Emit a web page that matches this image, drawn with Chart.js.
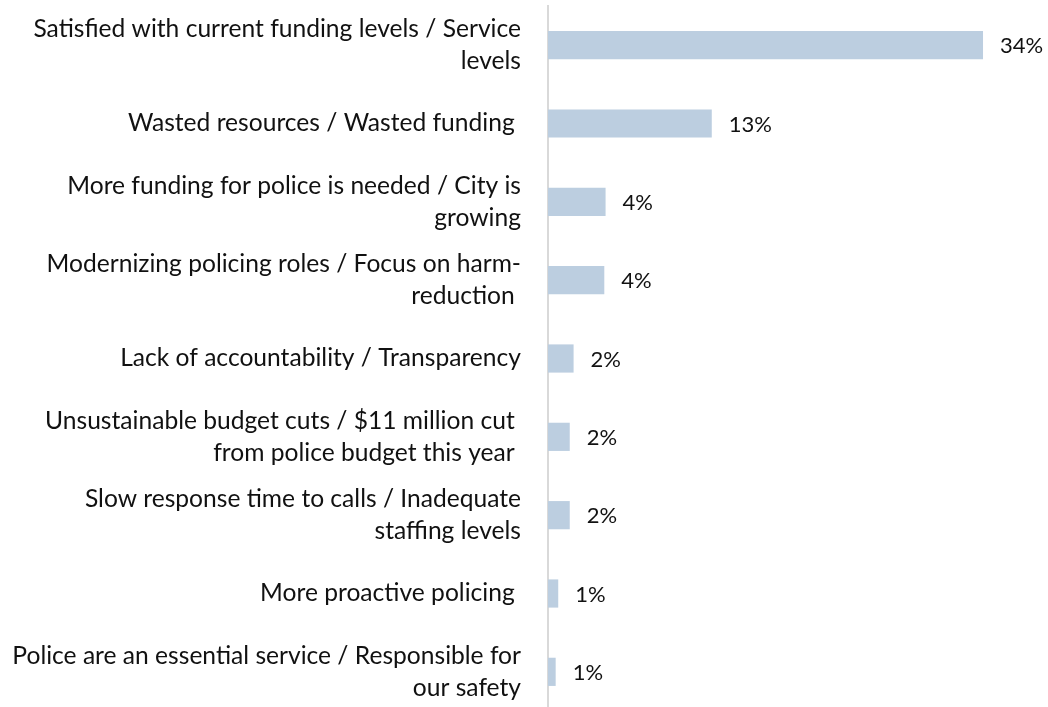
<!DOCTYPE html>
<html>
<head>
<meta charset="utf-8">
<script src="https://cdn.jsdelivr.net/npm/chart.js@4"></script>
<style>
  html, body { margin: 0; padding: 0; background: #fff; overflow: hidden; }
  #wrap { position: relative; width: 1048px; height: 712px; }
</style>
</head>
<body>
<div id="wrap"><canvas id="chart"></canvas></div>
<script>
const categories = [
  ["Satisfied with current funding levels / Service", "levels"],
  "Wasted resources / Wasted funding ",
  ["More funding for police is needed / City is", "growing"],
  ["Modernizing policing roles / Focus on harm-", "reduction "],
  "Lack of accountability / Transparency",
  ["Unsustainable budget cuts / $11 million cut ", "from police budget this year "],
  ["Slow response time to calls / Inadequate", "staffing levels"],
  "More proactive policing ",
  ["Police are an essential service / Responsible for", "our safety"],
];
const shares = [34, 12.8, 4.5, 4.4, 2.0, 1.7, 1.7, 0.8, 0.6];
const shareLabels = ["34%", "13%", "4%", "4%", "2%", "2%", "2%", "1%", "1%"];

const FONT = "Lato, 'Open Sans', sans-serif";
const TEXT = "#111111";

const valueLabels = {
  id: "valueLabels",
  afterDatasetsDraw(chart) {
    const ctx = chart.ctx;
    const meta = chart.getDatasetMeta(0);
    ctx.save();
    ctx.font = "22px " + FONT;
    ctx.fillStyle = TEXT;
    ctx.textAlign = "left";
    ctx.textBaseline = "middle";
    meta.data.forEach((bar, i) => {
      ctx.fillText(shareLabels[i], bar.x + 17, bar.y + 1);
    });
    ctx.restore();
  },
};

new Chart(document.getElementById("chart"), {
  type: "bar",
  data: {
    labels: categories,
    datasets: [{
      data: shares,
      backgroundColor: "#bccee0",
      barPercentage: 0.36,
      categoryPercentage: 1,
    }],
  },
  options: {
    indexAxis: "y",
    responsive: true,
    maintainAspectRatio: false,
    animation: false,
    layout: { padding: { top: 6, right: 1, bottom: 1, left: 0 } },
    plugins: { legend: { display: false }, tooltip: { enabled: false } },
    scales: {
      x: { display: false, min: 0, max: 39 },
      y: {
        grid: { display: false },
        border: { display: true, color: "#d9d9d9", width: 2 },
        ticks: {
          color: TEXT,
          padding: 19,
          font: { family: FONT, size: 24.6, lineHeight: "32px" },
        },
        afterFit(scale) {
          scale.width = 548;
          scale.paddingTop = 0;
          scale.paddingBottom = 0;
        },
      },
    },
  },
  plugins: [valueLabels],
});
</script>
</body>
</html>
